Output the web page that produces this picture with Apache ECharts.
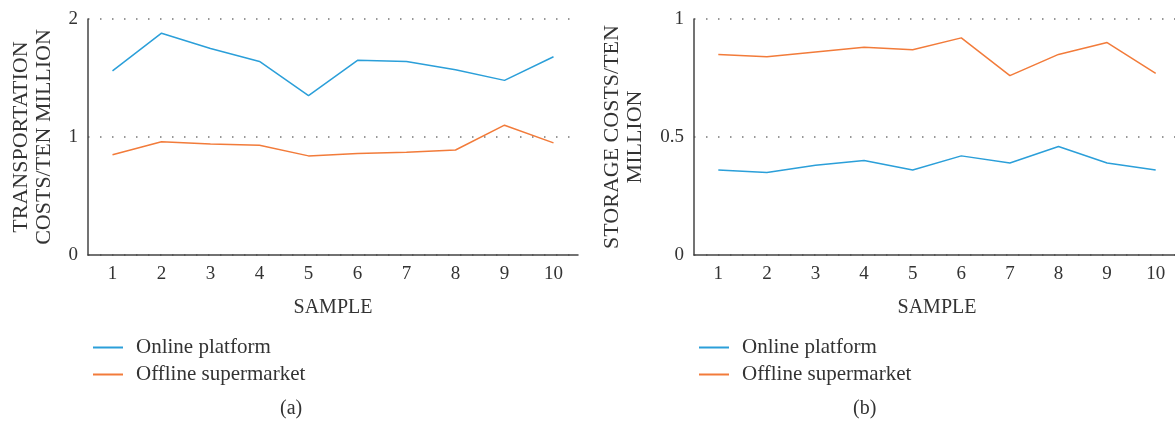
<!DOCTYPE html>
<html>
<head>
<meta charset="utf-8">
<script src="https://cdn.jsdelivr.net/npm/echarts@6/dist/echarts.min.js"></script>
<style>
  html, body { margin: 0; padding: 0; background: #fff; }
  #main { width: 1175px; height: 423px; }
</style>
</head>
<body>
<div id="main"></div>
<script>
// 数据
var samples = ['1', '2', '3', '4', '5', '6', '7', '8', '9', '10'];
var seriesNames = ['Online platform', 'Offline supermarket'];
var transOnline = [1.56, 1.88, 1.75, 1.64, 1.35, 1.65, 1.64, 1.57, 1.48, 1.68];
var transOffline = [0.85, 0.96, 0.94, 0.93, 0.84, 0.86, 0.87, 0.89, 1.10, 0.95];
var storeOnline = [0.36, 0.35, 0.38, 0.40, 0.36, 0.42, 0.39, 0.46, 0.39, 0.36];
var storeOffline = [0.85, 0.84, 0.86, 0.88, 0.87, 0.92, 0.76, 0.85, 0.90, 0.77];
var panelLabels = ['(a)', '(b)'];

var blue = '#2b9fd9', orange = '#f27b3a';
var font = '"Liberation Serif", "DejaVu Serif", serif';

var chart = {

	build: function() {
		var myChart = echarts.init(document.getElementById('main'));

		function xAxis(idx) {
			return {
				type: 'category',
				gridIndex: idx,
				data: samples,
				boundaryGap: true,
				name: 'SAMPLE',
				nameLocation: 'middle',
				nameGap: 43,
				nameTextStyle: { fontFamily: font, fontSize: 20, color: '#333' },
				axisLine: { lineStyle: { color: '#444', width: 1.5 } },
				axisTick: { show: false },
				axisLabel: { fontFamily: font, fontSize: 19, color: '#333', margin: 10 },
				splitLine: { show: false }
			};
		}
		function yAxis(idx, max, interval, name, gap) {
			return {
				type: 'value',
				gridIndex: idx,
				min: 0,
				max: max,
				interval: interval,
				name: name,
				nameLocation: 'middle',
				nameRotate: 90,
				nameGap: gap,
				nameTextStyle: { fontFamily: font, fontSize: 22, color: '#333', lineHeight: 23 },
				axisLine: { show: true, lineStyle: { color: '#444', width: 1.5 } },
				axisTick: { show: false },
				axisLabel: { fontFamily: font, fontSize: 19, color: '#333', margin: 10 },
				splitLine: {
					show: true,
					lineStyle: { color: '#777', width: 1.5, type: [1.5, 10.5] }
				}
			};
		}
		function line(name, xi, data, color) {
			return {
				name: name,
				type: 'line',
				xAxisIndex: xi,
				yAxisIndex: xi,
				data: data,
				symbol: 'none',
				color: color,
				lineStyle: { width: 1.5, color: color }
			};
		}
		function legend(left) {
			return {
				data: seriesNames,
				orient: 'vertical',
				left: left,
				top: 332,
				itemGap: 6,
				itemWidth: 30,
				itemHeight: 2,
				icon: 'rect',
				selectedMode: false,
				textStyle: { fontFamily: font, fontSize: 21, color: '#333', padding: [0, 0, 0, 8] }
			};
		}

		var option = {
			animation: false,
			backgroundColor: '#fff',
			grid: [
				{ left: 88, top: 19, width: 490, height: 236, outerBoundsMode: 'none' },
				{ left: 694, top: 19, width: 486, height: 236, outerBoundsMode: 'none' }
			],
			xAxis: [xAxis(0), xAxis(1)],
			yAxis: [
				yAxis(0, 2, 1, 'TRANSPORTATION\nCOSTS/TEN MILLION', 32),
				yAxis(1, 1, 0.5, 'STORAGE COSTS/TEN\nMILLION', 47)
			],
			legend: [legend(88), legend(694)],
			series: [
				line(seriesNames[0], 0, transOnline, blue),
				line(seriesNames[1], 0, transOffline, orange),
				line(seriesNames[0], 1, storeOnline, blue),
				line(seriesNames[1], 1, storeOffline, orange)
			],
			graphic: [
				{ type: 'text', left: 280, top: 399, style: { text: panelLabels[0], font: '20px ' + font, fill: '#333' } },
				{ type: 'text', left: 853, top: 399, style: { text: panelLabels[1], font: '20px ' + font, fill: '#333' } }
			]
		};
		myChart.setOption(option);
	}
};

chart.build();
</script>
</body>
</html>
